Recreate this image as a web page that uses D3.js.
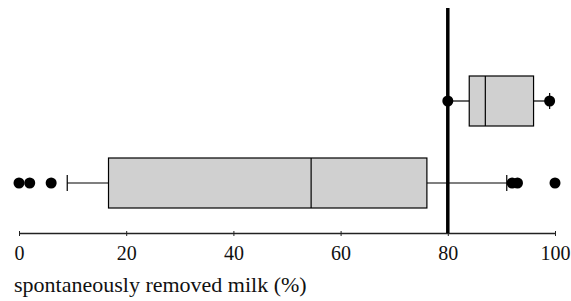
<!DOCTYPE html>
<html lang="en">
<head>
  <meta charset="utf-8">
  <title>Spontaneously removed milk</title>
  <script src="https://d3js.org/d3.v7.min.js"></script>
  <style>
    body { margin: 0; background: #fff; }
    svg text { font-family: 'Liberation Serif', 'Times New Roman', serif; fill: #111; }
  </style>
</head>
<body>
<div id="chart"></div>
<script>
  // groups, top to bottom
  var groups = ["groupA", "groupB"];
  var q1 = [84, 16.7];
  var medians = [87, 54.5];
  var q3 = [96, 76.1];
  var whiskerLow = [80, 9];
  var whiskerHigh = [99, 91];
  var outliers = [[80, 99], [0, 2, 6, 92, 93, 100]];
  var xTicks = [0, 20, 40, 60, 80, 100];
  var refLine = 80;

  var W = 571, H = 301;
  var svg = d3.select("#chart").append("svg")
      .attr("width", W).attr("height", H);

  var x = d3.scaleLinear().domain([0, 100]).range([19, 555]);
  var y = d3.scalePoint().domain(groups).range([101, 183]);
  var boxH = 50;

  var data = groups.map(function(g, i) {
    return {g: g, q1: q1[i], med: medians[i], q3: q3[i],
            lo: whiskerLow[i], hi: whiskerHigh[i], out: outliers[i]};
  });

  var rows = svg.selectAll("g.row").data(data).enter().append("g").attr("class", "row");

  // whisker lines
  rows.append("line")
      .attr("x1", d => x(d.lo)).attr("x2", d => x(d.q1))
      .attr("y1", d => y(d.g)).attr("y2", d => y(d.g))
      .attr("stroke", "#000").attr("stroke-width", 1.2);
  rows.append("line")
      .attr("x1", d => x(d.q3)).attr("x2", d => x(d.hi))
      .attr("y1", d => y(d.g)).attr("y2", d => y(d.g))
      .attr("stroke", "#000").attr("stroke-width", 1.2);
  // caps
  rows.selectAll("line.cap").data(d => [[d.lo, d.g], [d.hi, d.g]]).enter().append("line")
      .attr("class", "cap")
      .attr("x1", d => x(d[0])).attr("x2", d => x(d[0]))
      .attr("y1", d => y(d[1]) - 8).attr("y2", d => y(d[1]) + 8)
      .attr("stroke", "#000").attr("stroke-width", 1.2);

  // boxes
  rows.append("rect")
      .attr("x", d => x(d.q1)).attr("width", d => x(d.q3) - x(d.q1))
      .attr("y", d => y(d.g) - boxH / 2).attr("height", boxH)
      .attr("fill", "#d0d0d0").attr("stroke", "#000").attr("stroke-width", 1.2);
  rows.append("line")
      .attr("x1", d => x(d.med)).attr("x2", d => x(d.med))
      .attr("y1", d => y(d.g) - boxH / 2).attr("y2", d => y(d.g) + boxH / 2)
      .attr("stroke", "#000").attr("stroke-width", 1.2);

  // x axis
  var axis = svg.append("g")
      .attr("transform", "translate(0,233)")
      .call(d3.axisBottom(x).tickValues(xTicks).tickSize(3).tickSizeOuter(0))
      .attr("font-family", "Liberation Serif")
      .attr("font-size", 20);
  axis.select(".domain").attr("stroke", "#222").attr("stroke-width", 1.3);
  axis.selectAll(".tick line").attr("stroke", "#222").attr("y1", -2);
  axis.selectAll(".tick text")
      .attr("y", 27).attr("dy", 0)
      .attr("fill", "#111");

  // reference line
  svg.append("line")
      .attr("x1", x(refLine)).attr("x2", x(refLine))
      .attr("y1", 8).attr("y2", 233)
      .attr("stroke", "#000").attr("stroke-width", 3.5);

  // outlier points
  rows.selectAll("circle").data(d => d.out.map(v => [v, d.g])).enter().append("circle")
      .attr("cx", d => x(d[0])).attr("cy", d => y(d[1]))
      .attr("r", 5.5).attr("fill", "#000");

  // axis title
  svg.append("text")
      .attr("x", 14).attr("y", 292)
      .style("font-size", "22px")
      .text("spontaneously removed milk (%)");
</script>
</body>
</html>
